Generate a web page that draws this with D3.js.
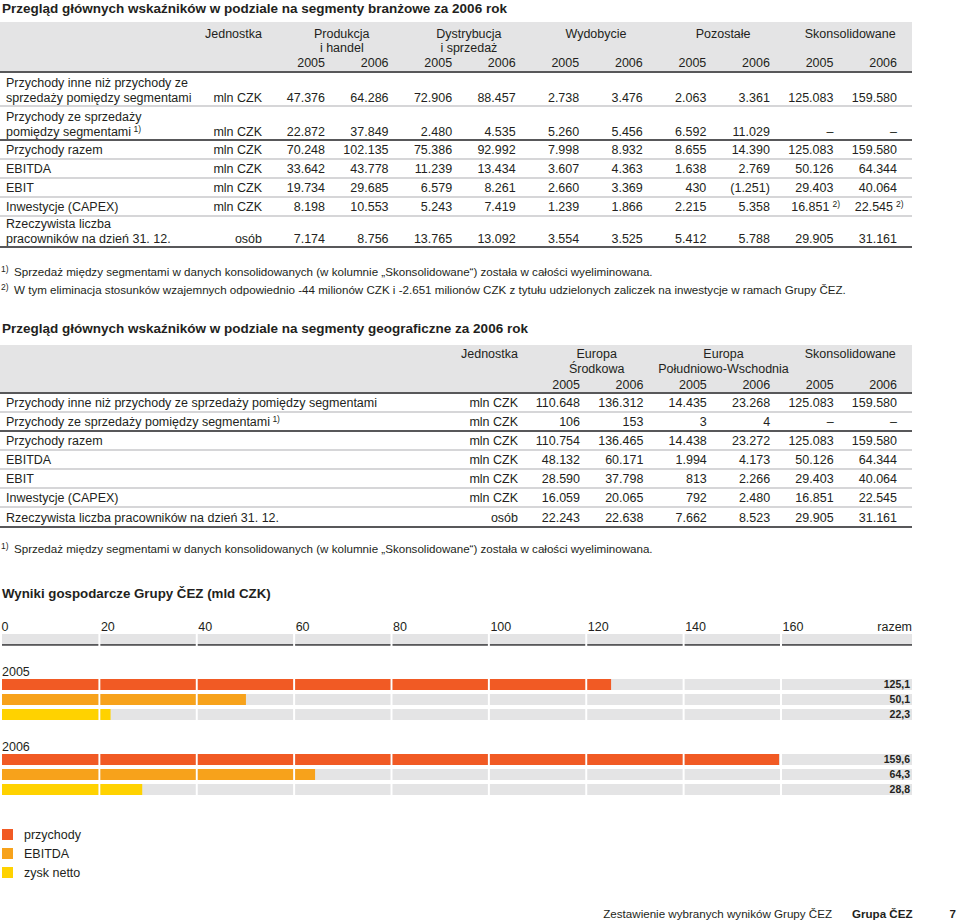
<!DOCTYPE html>
<html lang="pl">
<head>
<meta charset="utf-8">
<style>
body{margin:0;background:#fff}
svg{display:block;font-family:"Liberation Sans",Arial,Helvetica,sans-serif}
text{fill:#231f20}
</style>
</head>
<body>
<script src="https://d3js.org/d3.v7.min.js"></script>
<script>
// ---------- data: segmenty branżowe ----------
const segGroups = [["Produkcja","i handel"],["Dystrybucja","i sprzedaż"],["Wydobycie"],["Pozostałe"],["Skonsolidowane"]];
const years = ["2005","2006"];
const segRowLabels = [
  ["Przychody inne niż przychody ze","sprzedaży pomiędzy segmentami"],
  ["Przychody ze sprzedaży","pomiędzy segmentami"],
  ["Przychody razem"],["EBITDA"],["EBIT"],["Inwestycje (CAPEX)"],
  ["Rzeczywista liczba","pracowników na dzień 31. 12."]
];
const segRowNotes = [null,"1)",null,null,null,null,null];
const segUnits = ["mln CZK","mln CZK","mln CZK","mln CZK","mln CZK","mln CZK","osób"];
const segValues = [
  [47376,64286,72906,88457,2738,3476,2063,3361,125083,159580],
  [22872,37849,2480,4535,5260,5456,6592,11029,null,null],
  [70248,102135,75386,92992,7998,8932,8655,14390,125083,159580],
  [33642,43778,11239,13434,3607,4363,1638,2769,50126,64344],
  [19734,29685,6579,8261,2660,3369,430,-1251,29403,40064],
  [8198,10553,5243,7419,1239,1866,2215,5358,16851,22545],
  [7174,8756,13765,13092,3554,3525,5412,5788,29905,31161]
];
const segCellNotes = [[5,8,"2)"],[5,9,"2)"]];

// ---------- data: segmenty geograficzne ----------
const geoGroups = [["Europa","Środkowa"],["Europa","Południowo-Wschodnia"],["Skonsolidowane"]];
const geoRowLabels = [
  ["Przychody inne niż przychody ze sprzedaży pomiędzy segmentami"],
  ["Przychody ze sprzedaży pomiędzy segmentami"],
  ["Przychody razem"],["EBITDA"],["EBIT"],["Inwestycje (CAPEX)"],
  ["Rzeczywista liczba pracowników na dzień 31. 12."]
];
const geoRowNotes = [null,"1)",null,null,null,null,null];
const geoUnits = ["mln CZK","mln CZK","mln CZK","mln CZK","mln CZK","mln CZK","osób"];
const geoValues = [
  [110648,136312,14435,23268,125083,159580],
  [106,153,3,4,null,null],
  [110754,136465,14438,23272,125083,159580],
  [48132,60171,1994,4173,50126,64344],
  [28590,37798,813,2266,29403,40064],
  [16059,20065,792,2480,16851,22545],
  [22243,22638,7662,8523,29905,31161]
];

// ---------- data: wykres ----------
const chartYears = ["2005","2006"];
const revenue = [125.1,159.6];
const ebitda = [50.1,64.3];
const netProfit = [22.3,28.8];
const seriesNames = ["przychody","EBITDA","zysk netto"];
const axisTicks = [0,20,40,60,80,100,120,140,160];

// ---------- setup ----------
const width = 960, height = 923;
const svg = d3.select('body').append('svg').attr('width',width).attr('height',height);
const pl = d3.formatLocale({decimal:",", thousands:".", grouping:[3], currency:["",""]});
const fInt = pl.format(",d"), fDec = pl.format(".1f");
function cell(v){ if(v==null) return "–"; return v<0 ? "("+fInt(-v)+")" : fInt(v); }

const FS = 12.5, tableRight = 912;
const cGray = "#e4e4e5", cDark = "#58585a", cLight = "#c9c9cb";
const colors = ["#f15a24","#f7a21b","#ffd200"];

function title(txt, y, size){
  svg.append('text').attr('x',2).attr('y',y).attr('font-size',size||13.5).attr('font-weight','bold').text(txt);
}
function hline(y, kind){
  svg.append('line').attr('x1',0).attr('x2',tableRight).attr('y1',y).attr('y2',y)
    .attr('stroke', kind=='dark'?cDark:cLight).attr('stroke-width', kind=='dark'?2:1.5);
}
function txt(x,y,s,anchor,size){
  return svg.append('text').attr('x',x).attr('y',y).attr('font-size',size||FS)
    .attr('text-anchor',anchor||'start').text(s);
}
function sup(sel, s){
  sel.append('tspan').attr('font-size',8.5).attr('dy',-4).text(" "+s);
}

function drawTable(o){
  const x = d3.scalePoint().domain(d3.range(o.values[0].length)).range(o.colRange);
  svg.append('rect').attr('x',0).attr('y',o.headTop).attr('width',tableRight).attr('height',o.headBottom-o.headTop).attr('fill',cGray);
  const hy = o.headLines;
  txt(o.unitRight, hy[0], "Jednostka", 'end');
  o.groups.forEach((g,i)=>{
    const cx = (x(2*i)+x(2*i+1))/2 - 15;
    g.forEach((l,k)=>txt(cx, hy[k], l, 'middle'));
    years.forEach((yr,j)=>txt(x(2*i+j), hy[2], yr, 'end'));
  });
  hline(o.headBottom,'dark');
  let top = o.headBottom;
  o.labels.forEach((lab,r)=>{
    const h = o.rowH[r], bottom = top + h;
    const baseLast = lab.length>1 ? bottom - 4 : top + h/2 + 4.5;
    lab.forEach((l,k)=>{
      const t = txt(6, baseLast - (lab.length-1-k)*15, l, 'start');
      if(k==lab.length-1 && o.notes[r]) sup(t, o.notes[r]);
    });
    txt(o.unitRight, baseLast, o.units[r], 'end');
    o.values[r].forEach((v,c)=>{
      const note = (o.cellNotes||[]).find(n=>n[0]==r && n[1]==c);
      if(note){
        txt(x(c)-4, baseLast, cell(v), 'end');
        txt(x(c)-1, baseLast-4, note[2], 'start', 8.5);
      } else txt(x(c), baseLast, cell(v), 'end');
    });
    hline(bottom, o.seps[r]);
    top = bottom;
  });
}

// ---------- tabela 1 ----------
title("Przegląd głównych wskaźników w podziale na segmenty branżowe za 2006 rok", 13);
drawTable({values:segValues, groups:segGroups, labels:segRowLabels, notes:segRowNotes, units:segUnits,
  cellNotes:segCellNotes, colRange:[325,897], unitRight:262, headTop:22, headBottom:72,
  headLines:[37.5,51.5,66.5], rowH:[34,34,19,19,19,19,31],
  seps:["light","dark","light","light","light","light","dark"]});

function footnote(n, s, y){
  txt(1, y-4, n, 'start', 8.5);
  txt(14, y, s, 'start', 11.6);
}
footnote("1)","Sprzedaż między segmentami w danych konsolidowanych (w kolumnie „Skonsolidowane“) została w całości wyeliminowana.",276);
footnote("2)","W tym eliminacja stosunków wzajemnych odpowiednio -44 milionów CZK i -2.651 milionów CZK z tytułu udzielonych zaliczek na inwestycje w ramach Grupy ČEZ.",294);

// ---------- tabela 2 ----------
title("Przegląd głównych wskaźników w podziale na segmenty geograficzne za 2006 rok", 333);
drawTable({values:geoValues, groups:geoGroups, labels:geoRowLabels, notes:geoRowNotes, units:geoUnits,
  colRange:[580,897], unitRight:518, headTop:345, headBottom:393,
  headLines:[357.5,372.5,388.5], rowH:[19,19,19,19,19,19,20],
  seps:["light","dark","light","light","light","light","dark"]});
footnote("1)","Sprzedaż między segmentami w danych konsolidowanych (w kolumnie „Skonsolidowane“) została w całości wyeliminowana.",553);

// ---------- wykres ----------
title("Wyniki gospodarcze Grupy ČEZ (mld CZK)", 598, 13.3);
const xs = d3.scaleLinear().domain([0,160]).range([2,781]);
const segs = axisTicks.slice(0,-1).map((t,i)=>({x0: xs(t)+(i?1:0), x1: xs(t+20)-1, lo:t, hi:t+20}));
const lastSeg = {x0: xs(160)+1, x1: tableRight};

const axisG = svg.append('g').attr('transform','translate(0,632)')
  .call(d3.axisTop(xs).tickValues(axisTicks).tickSize(0).tickPadding(0).tickFormat(d3.format('d')));
axisG.select('.domain').remove();
axisG.selectAll('text').attr('text-anchor','start').attr('font-size',FS)
  .attr('font-family','"Liberation Sans",Arial,sans-serif').attr('fill','#231f20')
  .attr('dx',(d,i)=>i?1:-1).attr('dy',-1);
txt(tableRight, 631, "razem", 'end');
[...segs, lastSeg].forEach(s=>{
  svg.append('rect').attr('x',s.x0).attr('y',634).attr('width',s.x1-s.x0).attr('height',10.5).attr('fill',cGray);
  svg.append('rect').attr('x',s.x0).attr('y',644).attr('width',s.x1-s.x0).attr('height',1.8).attr('fill',cDark);
});

const series = [revenue, ebitda, netProfit];
chartYears.forEach((yr,yi)=>{
  const y0 = 679 + yi*75;
  txt(2, y0-3, yr, 'start');
  series.forEach((vals,si)=>{
    const v = vals[yi], by = y0 + si*15;
    [...segs, lastSeg].forEach(s=>{
      svg.append('rect').attr('x',s.x0).attr('y',by).attr('width',s.x1-s.x0).attr('height',11).attr('fill',cGray);
    });
    segs.filter(s=>v>s.lo).forEach(s=>{
      const end = Math.min(s.x1, xs(v));
      svg.append('rect').attr('x',s.x0).attr('y',by).attr('width',end-s.x0).attr('height',11).attr('fill',colors[si]);
    });
    txt(910, by+9, fDec(v), 'end', 10.5).attr('font-weight','bold');
  });
});

// legenda
seriesNames.forEach((n,i)=>{
  const y = 829 + i*19;
  svg.append('rect').attr('x',2).attr('y',y).attr('width',11).attr('height',11).attr('fill',colors[i]);
  txt(24, y+10, n, 'start');
});

// stopka
txt(832, 918, "Zestawienie wybranych wyników Grupy ČEZ", 'end', 11.6);
txt(852, 918, "Grupa ČEZ", 'start', 11.6).attr('font-weight','bold');
txt(956, 918, "7", 'end', 11.6).attr('font-weight','bold');
</script>
</body>
</html>
